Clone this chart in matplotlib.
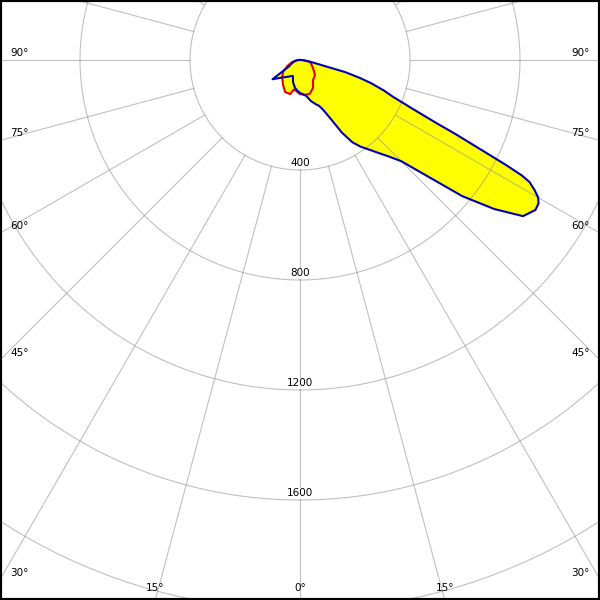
import numpy as np
import matplotlib
matplotlib.use('Agg')
from matplotlib import pyplot as plt
from matplotlib.patches import Rectangle

# 光强分布曲线数据 (角度, cd)
blue_angles = [-180, -90, -80, -75, -70, -65, -60, -55, -50, -45, -40, -35, -30, -25,
               -23.6, -17.6, -15, -10, -5, 0, 5, 10, 15, 20, 22.5, 25, 27.5, 30, 32.5,
               35, 37.5, 40, 42.5, 45, 47.5, 50, 52.5, 55, 57.5, 59, 60, 61, 62, 62.5,
               63, 63.7, 64.5, 65.2, 66.5, 68.4, 70, 72, 73.3, 75, 80, 85, 90, 180]
blue_cd = [0, 5, 15, 22, 28, 36, 45, 122, 103, 90, 81, 74, 68, 64,
           64, 84, 90, 103, 112, 120, 125, 133, 155, 172, 180, 200, 240, 305, 355,
           385, 410, 440, 475, 520, 620, 770, 890, 990, 1015, 1012, 1000, 975, 945, 910,
           840, 727, 630, 545, 450, 364, 325, 270, 228, 170, 40, 15, 5, 0]

red_angles = [-180, -90, -75, -65, -55, -46, -34, -25, -16, -12, -8, 0, 8, 16, 25, 33,
              45, 58, 68, 79, 90, 180]
red_cd = [0, 10, 30, 50, 75, 90, 110, 128, 129, 110, 112, 124, 128, 128, 112, 87,
          77, 56, 45, 37, 10, 0]

ring_values = [400, 800, 1200, 1600, 2000]
ring_labels = ['400', '800', '1200', '1600', '2000']
angle_marks = [0, 15, 30, 45, 60, 75, 90]

R_MAX = 2400
W = 600
cx, cy = 300, 60          # 极点位置 (像素)
px_per_cd = 110 / 400

fig = plt.figure(figsize=(6, 6), dpi=100)
rad_px = R_MAX * px_per_cd
w = 2 * rad_px / W
ax = fig.add_axes([cx / W - w / 2, 1 - cy / W - w / 2, w, w], projection='polar')
ax.set_theta_zero_location('S')
ax.set_rlim(0, R_MAX)
ax.grid(False)
ax.set_xticks([])
ax.set_yticks([])
ax.spines['polar'].set_visible(False)
ax.patch.set_visible(False)

grid_kw = dict(color='#969696', alpha=0.6, lw=0.8, zorder=2)

# 曲线填充
ax.fill(np.radians(blue_angles), blue_cd, color='#ffff00', lw=0, zorder=1)
ax.fill(np.radians(red_angles), red_cd, color='#ffff00', lw=0, zorder=1)

# 网格
t = np.linspace(0, 2 * np.pi, 721)
for r in ring_values:
    ax.plot(t, np.full_like(t, r), **grid_kw)
for a in range(0, 360, 15):
    ax.plot([np.radians(a)] * 2, [ring_values[0], R_MAX], **grid_kw)

# 曲线
ax.plot(np.radians(red_angles), red_cd, color='#e00000', lw=1.5, zorder=3)
ax.plot(np.radians(blue_angles), blue_cd, color='#0000b4', lw=1.5, zorder=4)

# 半径标注 (theta=0 朝下, r 减小即向上)
for r, lab in zip(ring_values[:-1], ring_labels[:-1]):
    ax.text(0, r - 6, lab, ha='center', va='bottom', fontsize=7.5, zorder=5,
            bbox=dict(facecolor='white', edgecolor='none', pad=0.2))

# 角度标注
for a in angle_marks:
    s, c = np.sin(np.radians(a)), np.cos(np.radians(a))
    t_y = (W - cy) / c if c > 1e-9 else np.inf
    t_x = cx / s if s > 1e-9 else np.inf
    if t_y <= t_x:
        ex = cx + t_y * s
        for x in {ex, 2 * cx - ex}:
            fig.text(x / W, 1 - 588 / W, '%d°' % a, ha='center', va='center', fontsize=7.5)
    else:
        ey = cy + t_x * c
        fig.text(10 / W, 1 - (ey - 7) / W, '%d°' % a, ha='left', va='center', fontsize=7.5)
        fig.text(590 / W, 1 - (ey - 7) / W, '%d°' % a, ha='right', va='center', fontsize=7.5)

# 黑色边框
fig.patches.append(Rectangle((0, 0), 1, 1, transform=fig.transFigure, fill=False,
                             edgecolor='black', lw=3, zorder=10))

fig.savefig('out.png', dpi=100)
